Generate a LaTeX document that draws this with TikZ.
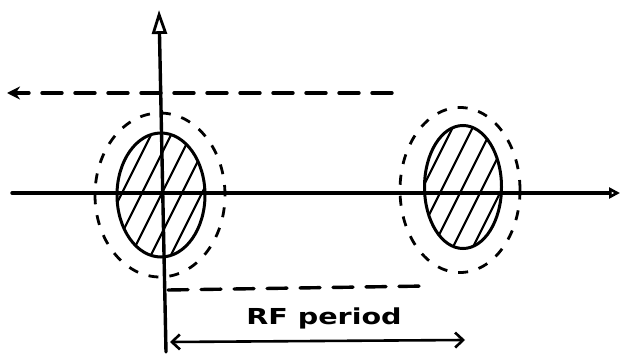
\documentclass[tikz,border=0pt]{standalone}
\usepackage{fontspec}
\setmainfont{DejaVu Sans}
\usetikzlibrary{shapes.geometric,arrows.meta}
\begin{document}
\begin{tikzpicture}[x=1pt,y=-1pt,
  axis/.style={line width=3.4pt, line cap=round},
  bunch/.style={ellipse, draw, line width=3pt, inner sep=0pt,
    path picture={
      \foreach \k in {-4,...,4}
        \draw[line width=2.2pt] (path picture bounding box.center) ++(\k*20pt-40pt,-80pt) -- ++(80pt,160pt);
    }},
  halo/.style={ellipse, draw, line width=2.8pt, inner sep=0pt, dash pattern=on 10pt off 11pt},
  track/.style={line width=3.4pt, dash pattern=on 20pt off 13pt, line cap=round},
  span/.style={line width=2.6pt, {Straight Barb[length=8pt,width=15pt]}-{Straight Barb[length=8pt,width=15pt]}}
]
\useasboundingbox (0,0) rectangle (629,355);
% axes
\coordinate (xl) at (12,193);
\coordinate (xr) at (620,193);
\coordinate (yb) at (166,352);
\coordinate (yt) at (159,10);
\draw[axis, -{Triangle[open, length=11pt, width=11pt, line width=2.6pt]}] (xl) -- (xr);
\draw[axis, -{Triangle[open, length=24pt, width=15pt, line width=2.8pt]}] (yb) -- (yt);
% bunches
\node[halo, minimum width=130pt, minimum height=164pt] (h1) at (160,195) {};
\node[bunch, minimum width=88pt, minimum height=124pt] (b1) at (161,195) {};
\node[halo, minimum width=120pt, minimum height=165pt] (h2) at (460,190) {};
\node[bunch, minimum width=77pt, minimum height=123pt] (b2) at (463,187) {};
% dashed tracks
\coordinate (t1s) at (392,93);
\coordinate (t1e) at (7,93);
\draw[track, -{Stealth[length=13pt,width=13pt]}] (t1s) -- (t1e);
\coordinate (t2s) at (168,290);
\coordinate (t2e) at (427,286);
\draw[track] (t2s) -- (t2e);
% RF period
\coordinate (p1) at (170,342);
\coordinate (p2) at (465,340);
\draw[span] (p1) -- (p2);
\node[font=\fontsize{22}{24}\selectfont\bfseries, xscale=1.3] (lab) at (324,318) {RF period};
\end{tikzpicture}
\end{document}
